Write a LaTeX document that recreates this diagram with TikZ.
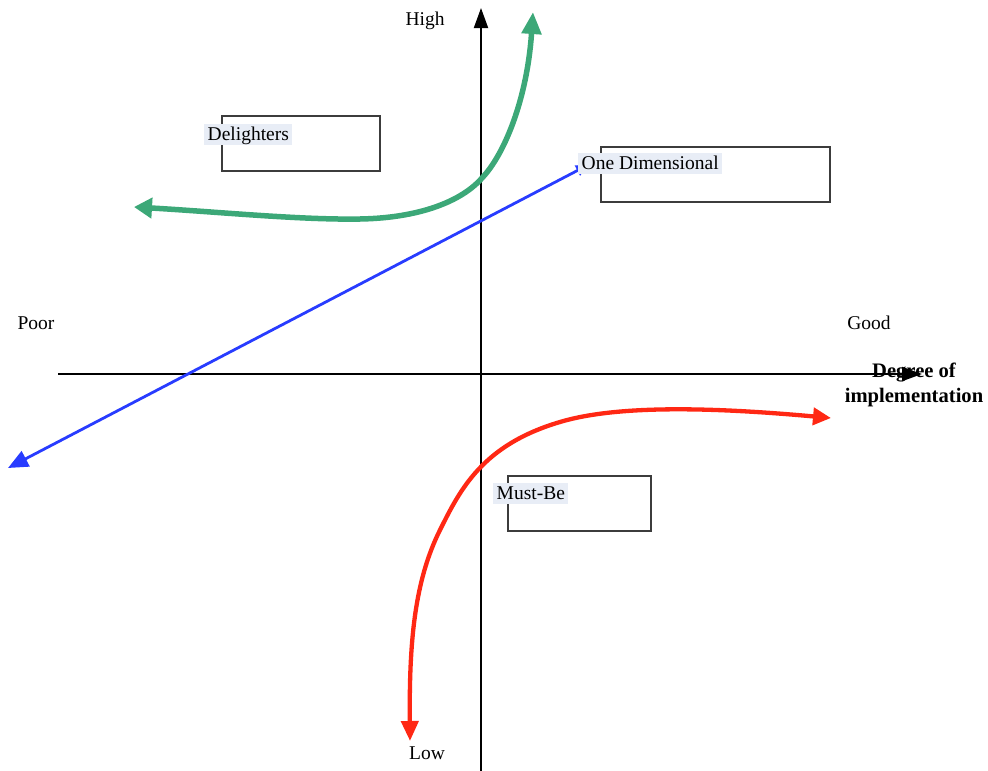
\documentclass[tikz,border=0pt]{standalone}
\usepackage{fontspec}
\setmainfont{Liberation Serif}
\usetikzlibrary{arrows.meta}
\definecolor{delightgreen}{RGB}{60,168,120}
\definecolor{linblue}{RGB}{40,60,255}
\definecolor{mustred}{RGB}{255,40,20}
\definecolor{hilite}{RGB}{232,237,246}
\definecolor{boxline}{RGB}{60,60,60}
\tikzset{
  lbl/.style={font=\fontsize{19.5}{22}\selectfont, inner sep=0pt},
  hl/.style={lbl, fill=hilite, anchor=north west, text height=15pt, text depth=4pt, inner xsep=3.5pt, inner ysep=1pt},
  catbox/.style={draw=boxline, line width=1.2pt, minimum height=55pt, inner sep=0pt},
  axis/.style={black, line width=1.9pt, -{Triangle[length=20pt,width=14pt]}},
}
\begin{document}
\begin{tikzpicture}[x=1pt,y=-1pt]
\useasboundingbox (0,0) rectangle (988,771);
% axes
\coordinate (xl) at (58,374);
\coordinate (xr) at (922,374);
\coordinate (yb) at (481,771);
\coordinate (yt) at (481,8);
\draw[axis] (xl) -- (xr);
\draw[axis] (yb) -- (yt);

% one-dimensional line
\coordinate (bl) at (8,468);
\coordinate (tr) at (588,165);
\draw[linblue, line width=2.8pt, {Triangle[length=20pt,width=17pt]}-{Triangle[length=12pt,width=11pt]}] (bl) -- (tr);

% delighters curve
\coordinate (gl) at (134,207);
\coordinate (gt) at (533,12);
\draw[delightgreen, line width=5.5pt, {Triangle[length=18pt,width=20pt]}-{Triangle[length=22pt,width=19pt]}]
  (gl) .. controls (220,212) and (300,220) .. (360,219)
       .. controls (420,218) and (462,201) .. (482,178)
       .. controls (504,155) and (527,100) .. (gt);

% must-be curve
\coordinate (rb) at (410,741);
\coordinate (rr) at (831,418);
\draw[mustred, line width=4.3pt, {Triangle[length=20pt,width=17pt]}-{Triangle[length=18pt,width=17pt]}]
  (rb) .. controls (409,640) and (415,580) .. (440,530)
       .. controls (460,490) and (482,445) .. (560,422)
       .. controls (620,404) and (720,408) .. (rr);

% category boxes
\node[catbox, minimum width=158pt] (dbox) at (301,143.5) {};
\node[catbox, minimum width=229pt] (obox) at (715.5,174.5) {};
\node[catbox, minimum width=143pt] (mbox) at (579.5,503.5) {};

% highlighted captions
\node[hl] (dtxt) at (204,124) {Delighters};
\node[hl] (otxt) at (578,153) {One Dimensional};
\node[hl] (mtxt) at (493,483) {Must-Be};

% axis labels
\node[lbl] (high) at (425,21) {High};
\node[lbl] (low) at (427,753) {Low};
\node[lbl] (poor) at (36,323) {Poor};
\node[lbl] (good) at (869,323) {Good};
\node[lbl, font=\fontsize{20.6}{25}\selectfont\bfseries, align=center] (deg) at (914,385) {Degree of\\implementation};
\end{tikzpicture}
\end{document}
